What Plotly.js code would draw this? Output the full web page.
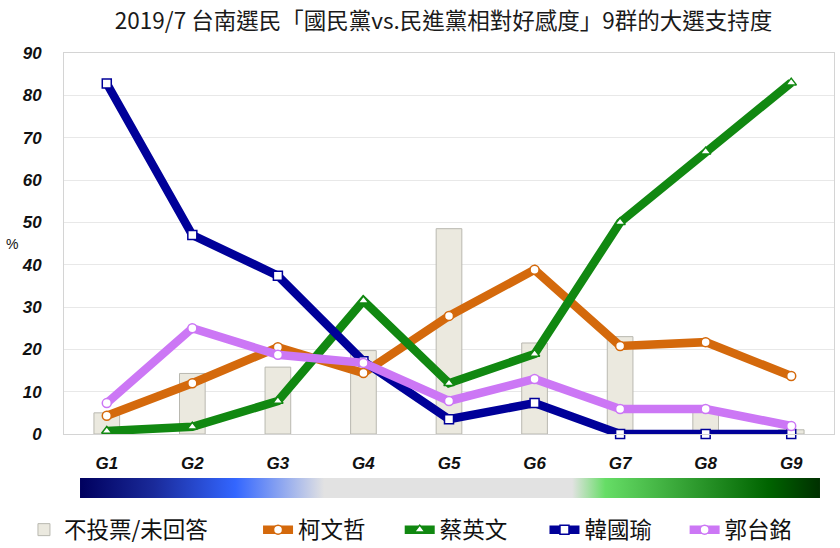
<!DOCTYPE html>
<html>
<head>
<meta charset="utf-8">
<script src="https://cdn.plot.ly/plotly-3.0.1.min.js"></script>
<style>html,body{margin:0;padding:0;background:#fff;}#chart{width:840px;height:548px;}</style>
</head>
<body>
<div id="chart"></div>
<script>
const groups = ['G1','G2','G3','G4','G5','G6','G7','G8','G9'];
const noVote = [5, 14.3, 15.8, 19.7, 48.5, 21.5, 23, 5.2, 1];
const ko = [4.3, 12, 20.5, 14.4, 27.9, 38.8, 20.8, 21.7, 13.7];
const tsai = [0.7, 1.7, 7.8, 31.5, 12, 18.9, 50, 66.7, 83];
const han = [82.8, 47, 37.4, 17.2, 3.5, 7.3, 0, 0, 0];
const gou = [7.3, 25, 18.7, 16.8, 7.8, 13, 5.9, 5.9, 1.9];
const seriesNames = ['不投票/未回答','柯文哲','蔡英文','韓國瑜','郭台銘'];
const yTicks = [0,10,20,30,40,50,60,70,80,90];

const cjk = '"Noto Sans CJK TC", "Noto Sans CJK SC", sans-serif';
const lat = '"Liberation Sans", Arial, sans-serif';

function lineTrace(name, y, color, symbol, legendId) {
  return {
    type: 'scatter', mode: 'lines+markers', name: name, x: groups, y: y, legend: legendId,
    line: {color: color, width: 8.5},
    marker: {symbol: symbol, size: 9, color: '#ffffff', line: {color: color, width: 1.5}},
    cliponaxis: false
  };
}

const traces = [
  {type: 'bar', name: seriesNames[0], x: groups, y: noVote, width: 0.3, legend: 'legend',
   marker: {color: '#ebe9df', line: {color: '#b9b8b0', width: 1}}},
  lineTrace(seriesNames[1], ko, '#d4690c', 'circle', 'legend2'),
  lineTrace(seriesNames[2], tsai, '#118811', 'triangle-up', 'legend3'),
  lineTrace(seriesNames[3], han, '#000099', 'square', 'legend4'),
  lineTrace(seriesNames[4], gou, '#cc77f5', 'circle', 'legend5')
];

const gradSvg = '<svg xmlns="http://www.w3.org/2000/svg" width="740" height="20" preserveAspectRatio="none">' +
  '<defs><linearGradient id="g" x1="0" y1="0" x2="1" y2="0">' +
  '<stop offset="0" stop-color="#00005e"/>' +
  '<stop offset="0.1" stop-color="#1a2a9a"/>' +
  '<stop offset="0.21" stop-color="#3366ff"/>' +
  '<stop offset="0.33" stop-color="#e2e2e2"/>' +
  '<stop offset="0.665" stop-color="#e2e2e2"/>' +
  '<stop offset="0.71" stop-color="#66dd66"/>' +
  '<stop offset="0.93" stop-color="#006400"/>' +
  '<stop offset="1" stop-color="#003000"/>' +
  '</linearGradient></defs><rect x="0" y="0" width="740" height="20" fill="url(#g)"/></svg>';
const gradUrl = 'data:image/svg+xml;charset=utf-8,' + encodeURIComponent(gradSvg);

function leg(x) {
  return {orientation: 'h', x: x, xanchor: 'left', y: -0.252, yanchor: 'middle',
          font: {family: cjk, size: 22.5, color: '#111'}, itemwidth: 30,
          bgcolor: 'rgba(0,0,0,0)'};
}

const layout = {
  width: 840, height: 548,
  margin: {l: 64, r: 6, t: 53, b: 114, autoexpand: false},
  paper_bgcolor: '#ffffff', plot_bgcolor: '#ffffff',
  title: {text: '2019/7 台南選民「國民黨vs.民進黨相對好感度」9群的大選支持度',
          font: {family: cjk, size: 22.5, color: '#1a1a1a'},
          x: 0.528, xanchor: 'center', y: 0.962, yanchor: 'middle'},
  showlegend: true,
  legend: leg(-0.052),
  legend2: leg(0.252),
  legend3: leg(0.436),
  legend4: leg(0.624),
  legend5: leg(0.806),
  xaxis: {type: 'category', range: [-0.5, 8.5], showgrid: false, zeroline: false,
          showline: true, linecolor: '#d4d4d4', linewidth: 1, mirror: true,
          ticks: '', ticklabelstandoff: 14,
          tickfont: {family: lat, size: 17, weight: 'bold', style: 'italic', color: '#111'}},
  yaxis: {range: [0, 90], tickvals: yTicks, showgrid: true, gridcolor: '#e8e8e8', gridwidth: 1,
          zeroline: false, showline: true, linecolor: '#d4d4d4', linewidth: 1, mirror: true,
          ticks: '', ticklabelstandoff: 18,
          tickfont: {family: lat, size: 17, weight: 'bold', style: 'italic', color: '#111'}},
  annotations: [{text: '%', xref: 'paper', yref: 'paper', x: -0.068, y: 0.5, xanchor: 'center',
                 yanchor: 'middle', showarrow: false, font: {family: lat, size: 14, color: '#111'}}],
  images: [{source: gradUrl, xref: 'paper', yref: 'paper', x: 0.0208, y: -0.1155,
            sizex: 0.961, sizey: 0.0525, sizing: 'stretch', xanchor: 'left', yanchor: 'top', layer: 'above'}],
  bargap: 0.7
};

Plotly.newPlot('chart', traces, layout, {displayModeBar: false, staticPlot: true});
</script>
</body>
</html>
